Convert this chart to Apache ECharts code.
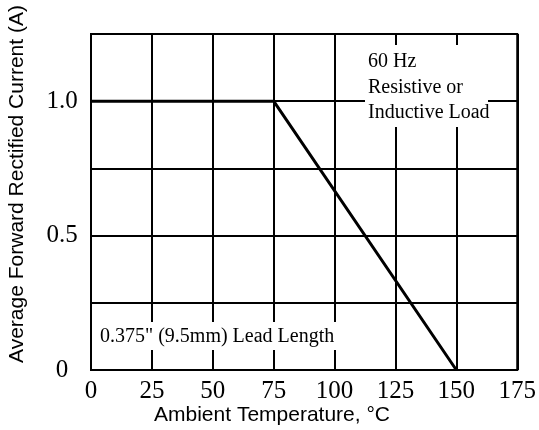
<!DOCTYPE html>
<html>
<head>
<meta charset="utf-8">
<script src="https://cdn.jsdelivr.net/npm/echarts@6/dist/echarts.min.js"></script>
<style>html,body{margin:0;padding:0;background:#fff}#c{width:539px;height:430px}</style>
</head>
<body>
<div id="c"></div>
<script>
const temps = [0, 75, 150];
const currents = [1.0, 1.0, 0];
const xTicks = [0, 25, 50, 75, 100, 125, 150, 175];
const yTickLabels = {"0": "0", "0.5": "0.5", "1": "1.0"};
const xTitle = 'Ambient Temperature, \u00B0C';
const yTitle = 'Average Forward Rectified Current (A)';
const noteTop = ['60 Hz', 'Resistive or', 'Inductive Load'];
const noteBottom = '0.375" (9.5mm) Lead Length';

const chart = echarts.init(document.getElementById('c'), null, {renderer: 'canvas'});
const serif = 'Liberation Serif';
const sans = 'Liberation Sans';
chart.setOption({
  animation: false,
  backgroundColor: '#fff',
  grid: {left: 91, right: 13, top: 34, bottom: 60, show: true, borderColor: '#000', borderWidth: 2, backgroundColor: 'transparent'},
  xAxis: {
    type: 'value', min: 0, max: 175, interval: 25,
    axisLine: {show: false}, axisTick: {show: false},
    splitLine: {show: true, lineStyle: {color: '#000', width: 2}},
    axisLabel: {fontFamily: serif, fontSize: 25, color: '#000', margin: 9,
      formatter: v => xTicks.includes(v) ? String(v) : ''}
  },
  yAxis: {
    type: 'value', min: 0, max: 1.25, interval: 0.25,
    axisLine: {show: false}, axisTick: {show: false},
    splitLine: {show: true, lineStyle: {color: '#000', width: 2}},
    axisLabel: {fontFamily: serif, fontSize: 25, color: '#000', margin: 29, align: 'center',
      formatter: v => yTickLabels[String(v)] || ''}
  },
  series: [{
    type: 'line', data: temps.map((t, i) => [t, currents[i]]),
    symbol: 'none', lineStyle: {color: '#000', width: 3}, z: 5
  }],
  graphic: [
    {type: 'text', x: 17, y: 184, rotation: Math.PI / 2, z: 10,
      style: {text: yTitle, fontFamily: sans, fontSize: 21, fill: '#000', align: 'center', verticalAlign: 'middle'}},
    {type: 'text', x: 272, y: 415, z: 10,
      style: {text: xTitle, fontFamily: sans, fontSize: 21, fill: '#000', align: 'center', verticalAlign: 'middle'}},
    {type: 'rect', shape: {x: 365, y: 45, width: 123, height: 82}, style: {fill: '#fff'}, z: 8},
    {type: 'text', x: 368, y: 49, z: 10,
      style: {text: noteTop.join('\n'), fontFamily: serif, fontSize: 20, lineHeight: 25.5, fill: '#000', align: 'left', verticalAlign: 'top'}},
    {type: 'rect', shape: {x: 96, y: 322, width: 240, height: 28}, style: {fill: '#fff'}, z: 8},
    {type: 'text', x: 100, y: 337, z: 10,
      style: {text: noteBottom, fontFamily: serif, fontSize: 20, fill: '#000', align: 'left', verticalAlign: 'middle'}}
  ]
});
</script>
</body>
</html>
